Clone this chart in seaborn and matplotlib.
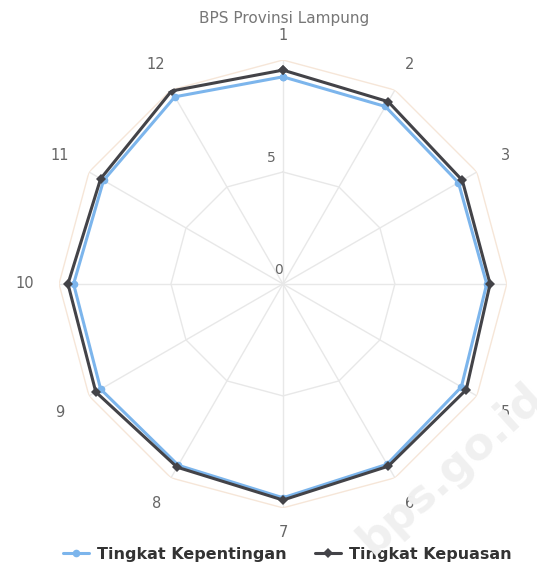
import numpy as np
import pandas as pd
import seaborn as sns
import matplotlib.pyplot as plt

# data
labels = ['1', '2', '3', '4', '5', '6', '7', '8', '9', '10', '11', '12']
kepentingan = [9.25, 9.15, 9.05, 9.1, 9.2, 9.3, 9.55, 9.35, 9.4, 9.35, 9.25, 9.65]
kepuasan = [9.55, 9.4, 9.25, 9.25, 9.45, 9.4, 9.65, 9.45, 9.65, 9.6, 9.4, 9.95]
ring_values = [0, 5, 10]

sns.set_theme(style='white')
plt.rcParams['font.family'] = ['DejaVu Sans']

n = len(labels)
theta = np.linspace(0, 2 * np.pi, n, endpoint=False)
theta_closed = np.append(theta, 2 * np.pi)

rows = []
for name, vals in [('Tingkat Kepentingan', kepentingan), ('Tingkat Kepuasan', kepuasan)]:
    for t, v in zip(theta_closed, list(vals) + [vals[0]]):
        rows.append({'theta': t, 'value': v, 'series': name})
df = pd.DataFrame(rows)

fig = plt.figure(figsize=(5.37, 5.68), dpi=100)
ax = fig.add_axes([0.1099, 0.1056, 0.834, 0.789], projection='polar')
ax.set_theta_zero_location('N')
ax.set_theta_direction(-1)
ax.set_ylim(0, 10)
ax.grid(False)
ax.spines['polar'].set_visible(False)
ax.set_xticks([])
ax.set_yticks([])

# polygon grid
for t in theta:
    ax.plot([t, t], [0, 10], color='#e8e8e8', lw=1, zorder=1)
ax.plot(theta_closed, [5] * (n + 1), color='#e8e8e8', lw=1, zorder=1)
ax.plot(theta_closed, [10] * (n + 1), color='#f6e6d8', lw=1, zorder=1)

for r in ring_values[:2]:
    ax.text(-0.06, r + 0.3, str(r), color='#666666', fontsize=10,
            ha='right', va='bottom')

# category labels sit a bit further out on the sides than at top/bottom
for t, lab in zip(theta, labels):
    r_lab = 11.1 + 0.45 * abs(np.sin(t))
    ax.text(t, r_lab, lab, color='#666666', fontsize=10.5, ha='center', va='center')

sns.lineplot(data=df, x='theta', y='value', hue='series',
             palette={'Tingkat Kepentingan': '#7cb5ec', 'Tingkat Kepuasan': '#434348'},
             style='series', markers={'Tingkat Kepentingan': 'o', 'Tingkat Kepuasan': 'D'},
             dashes=False, markersize=5.5, linewidth=2.2, markeredgewidth=0,
             sort=False, ax=ax, zorder=3)
ax.set_xlabel('')
ax.set_ylabel('')
ax.set_ylim(0, 10)

leg = ax.legend(loc='center', bbox_to_anchor=(0.51, -0.103), ncol=2, frameon=False,
                fontsize=11.5, handlelength=1.6, columnspacing=1.8, handletextpad=0.5,
                bbox_transform=ax.transAxes)
for txt in leg.get_texts():
    txt.set_fontweight('bold')
    txt.set_color('#333333')

fig.text(0.53, 0.967, 'BPS Provinsi Lampung', ha='center', va='center',
         fontsize=11, color='#777777')
fig.text(0.84, 0.175, 'bps.go.id', ha='center', va='center', fontsize=32,
         fontweight='bold', color='#f0f0f0', rotation=42, zorder=0)

fig.savefig('out.png', dpi=100)
